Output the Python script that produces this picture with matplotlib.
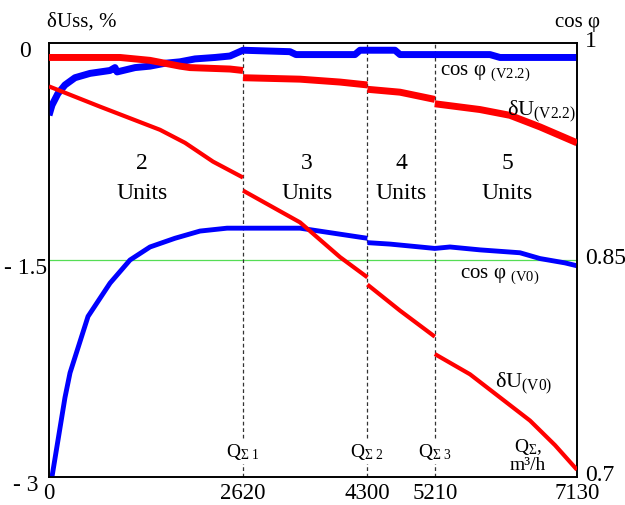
import matplotlib
matplotlib.use("Agg")
import matplotlib.pyplot as plt
import matplotlib.transforms as mtransforms

plt.rcParams['font.family'] = ['Liberation Serif', 'DejaVu Serif']
plt.rcParams['mathtext.fontset'] = 'custom'
plt.rcParams['mathtext.rm'] = 'Liberation Serif'
plt.rcParams['mathtext.it'] = 'Liberation Serif:italic'

# switching flows Q_sum (m3/h) where another unit is started
q_switch = [2620, 4300, 5210]
q_max = 7130
unit_counts = ['2', '3', '4', '5']
unit_label_x = [1256, 3484, 4753, 6185]

# cos phi, V2.2 regime (one continuous curve)
cos_v22_x = [0, 40, 120, 216, 351, 554, 824, 891, 919, 1162, 1364, 1566, 1769,
             1972, 2242, 2444, 2620, 3254, 3335, 4132, 4200, 4672, 4740, 5955,
             6090, 7130]
cos_v22_y = [0.950, 0.957, 0.965, 0.971, 0.976, 0.979, 0.981, 0.983, 0.980,
             0.983, 0.984, 0.986, 0.987, 0.989, 0.990, 0.991, 0.995, 0.994,
             0.992, 0.992, 0.995, 0.995, 0.992, 0.992, 0.990, 0.990]

# cos phi, V0 regime: step down when the 4th unit starts
cos_v0_x = [[40, 216, 284, 527, 824, 1094, 1364, 1700, 2039, 2404, 2620, 3390, 4300],
            [4300, 4605, 5010, 5210, 5415, 5820, 6360, 6630, 6968, 7130]]
cos_v0_y = [[0.700, 0.755, 0.772, 0.811, 0.834, 0.850, 0.859, 0.865, 0.870,
             0.872, 0.872, 0.872, 0.865],
            [0.862, 0.861, 0.859, 0.858, 0.859, 0.857, 0.855, 0.851, 0.848, 0.846]]

# voltage deviation dU, %, V2.2 regime, one piece per number of units
du_v22_x = [[0, 959, 1364, 1566, 1769, 1904, 2444, 2620],
            [2620, 3390, 3930, 4300],
            [4300, 4740, 5210],
            [5210, 5820, 6225, 6630, 7130]]
du_v22_y = [[-0.10, -0.10, -0.12, -0.14, -0.16, -0.17, -0.18, -0.19],
            [-0.24, -0.25, -0.27, -0.29],
            [-0.32, -0.34, -0.39],
            [-0.42, -0.46, -0.50, -0.58, -0.69]]

# voltage deviation dU, %, V0 regime
du_v0_x = [[0, 689, 1499, 1837, 2215, 2620],
           [2620, 3390, 3930, 4300],
           [4300, 4740, 5210],
           [5210, 5685, 6090, 6495, 6833, 7130]]
du_v0_y = [[-0.30, -0.44, -0.60, -0.69, -0.82, -0.93],
           [-1.02, -1.24, -1.48, -1.62],
           [-1.67, -1.85, -2.03],
           [-2.15, -2.29, -2.45, -2.61, -2.78, -2.95]]

RED = '#ff0000'
BLUE = '#0000ff'

fig = plt.figure(figsize=(6.25, 5.05), dpi=100)
# cos phi axis (right scale) underneath, dU axis (left scale) on top
ax = fig.add_axes([49 / 625, 28 / 505, 528 / 625, 434 / 505])
ax2 = ax.twinx()
ax.yaxis.tick_right()
ax2.yaxis.tick_left()

ax.set_xlim(0, q_max)
ax.set_ylim(0.7, 1.0)
ax2.set_ylim(-3, 0)

for a in (ax, ax2):
    for s in a.spines.values():
        s.set_linewidth(1.2)
        s.set_color('black')

ax.set_xticks([0] + q_switch + [q_max])
ax.set_xticklabels(['0'] + [str(q) for q in q_switch] + [str(q_max)])
ax.set_yticks([0.7, 0.85, 1.0])
ax.set_yticklabels(['0.7', '0.85', '1'])
ax2.set_yticks([-3, -1.5, 0])
ax2.set_yticklabels(['- 3', '- 1.5', '0'])
ax.tick_params(axis='x', length=0, pad=4, labelsize=16.5)
ax.tick_params(axis='y', length=0, pad=6, labelsize=17)
ax2.tick_params(axis='y', length=0, pad=17, labelsize=17)
# left labels sit a little below their levels, right ones a little above
shift_down = mtransforms.ScaledTranslation(0, -4 / 72, fig.dpi_scale_trans)
shift_up = mtransforms.ScaledTranslation(0, 3 / 72, fig.dpi_scale_trans)
for lab in ax2.get_yticklabels():
    lab.set_horizontalalignment('center')
    lab.set_transform(lab.get_transform() + shift_down)
for lab in ax.get_yticklabels():
    lab.set_transform(lab.get_transform() + shift_up)

# reference level and unit switching lines
ax.axhline(0.85, color='#55dd55', lw=0.9, zorder=1)
for q in q_switch:
    ax.axvline(q, color='#333333', lw=0.9, ls=(0, (3, 2.2)), zorder=1)

# cos phi curves
ax.plot(cos_v22_x, cos_v22_y, color=BLUE, lw=5, solid_capstyle='butt', zorder=3)
for xs, ys in zip(cos_v0_x, cos_v0_y):
    ax.plot(xs, ys, color=BLUE, lw=3.5, solid_capstyle='butt', zorder=3)

# voltage deviation curves
for xs, ys in zip(du_v22_x, du_v22_y):
    ax2.plot(xs, ys, color=RED, lw=5, solid_capstyle='butt', zorder=3)
for xs, ys in zip(du_v0_x, du_v0_y):
    ax2.plot(xs, ys, color=RED, lw=3, solid_capstyle='butt', zorder=3)

# number of running units
for n, x in zip(unit_counts, unit_label_x):
    ax2.text(x, -0.83, n, fontsize=17, ha='center', va='center')
    ax2.text(x, -1.04, 'Units', fontsize=17, ha='center', va='center')

# switching flow markers
for i, q in enumerate(q_switch):
    ax2.text(q - 230, -2.86, r'Q${}_{\mathrm{\Sigma\ %d}}$' % (i + 1), fontsize=14,
             ha='left', va='baseline', zorder=5,
             bbox=dict(facecolor='white', edgecolor='none', pad=2))

# curve captions
ax2.text(5280, -0.22, r'cos φ ${}_{\mathrm{(V2.2)}}$', fontsize=15, va='baseline')
ax2.text(6185, -0.50, r'δU${}_{\mathrm{(V2.2)}}$', fontsize=16, va='baseline')
ax2.text(5550, -1.62, r'cos φ ${}_{\mathrm{(V0)}}$', fontsize=15, va='baseline')
ax2.text(6023, -2.38, r'δU${}_{\mathrm{(V0)}}$', fontsize=16, va='baseline')
ax2.text(6468, -2.83, r'Q${}_{\mathrm{\Sigma}}$,', fontsize=14, ha='center', va='baseline')
ax2.text(6468, -2.95, 'm³/h', fontsize=14, ha='center', va='baseline')

# axis titles
fig.text(47 / 625, 1 - 27 / 505, 'δUss, %', fontsize=15, va='baseline')
fig.text(555 / 625, 1 - 27 / 505, 'cos φ', fontsize=15, va='baseline')

fig.savefig('out.png', dpi=100)
